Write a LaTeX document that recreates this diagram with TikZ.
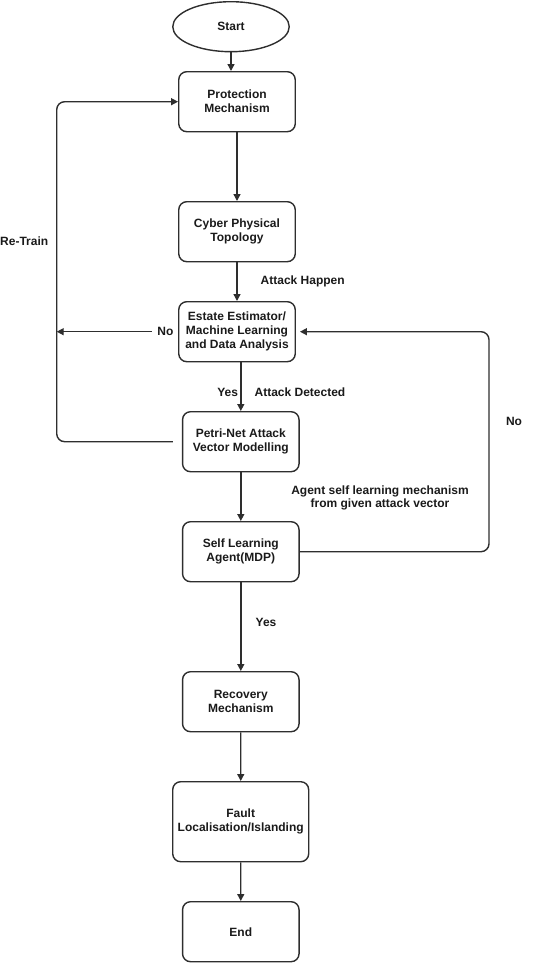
\documentclass[tikz,border=0pt]{standalone}
\usepackage{fontspec}
\setmainfont{Liberation Sans}
\usetikzlibrary{shapes.geometric,arrows.meta}
\definecolor{ln}{HTML}{2E2E2E}
\definecolor{tx}{HTML}{1A1A1A}
\tikzset{
  box/.style={draw=ln, line width=1.4pt, rounded corners=8pt, minimum width=116.5pt, minimum height=60pt, inner sep=2pt, align=center, font=\fontsize{12}{14}\selectfont\bfseries, text=tx},
  startnode/.style={draw=ln, line width=1.4pt, ellipse, minimum width=116.5pt, minimum height=50pt, inner sep=0pt, font=\fontsize{12}{14}\selectfont\bfseries, text=tx},
  arr/.style={draw=ln, line width=1.4pt, -{Triangle[length=7pt,width=7pt]}},
  lbl/.style={font=\fontsize{12}{13}\selectfont\bfseries, text=tx, align=center, inner sep=1pt}
}
\begin{document}
\begin{tikzpicture}[x=1pt,y=-1pt]
\useasboundingbox (0,0) rectangle (540,964);
\node[startnode] (start) at (231,26.7) {Start};
\node[box] (prot) at (237,101.7) {Protection\\Mechanism};
\node[box] (cyber) at (237,231.7) {Cyber Physical\\Topology};
\node[box] (estate) at (237,331.7) {Estate Estimator/\\Machine Learning\\and Data Analysis};
\node[box] (petri) at (240.8,441.7) {Petri-Net Attack\\Vector Modelling};
\node[box] (self) at (240.8,551.7) {Self Learning\\Agent(MDP)};
\node[box] (recov) at (240.8,701.7) {Recovery\\Mechanism};
\node[box, minimum width=136pt, minimum height=80pt] (fault) at (240.7,821.7) {Fault\\Localisation/Islanding};
\node[box] (end) at (240.8,931.7) {End};

\coordinate (lt) at (56.7,101.7);
\coordinate (lb) at (56.7,441.7);
\coordinate (rt) at (489,331.7);
\coordinate (rb) at (489,551.7);

\draw[arr] (start.south) -- (start.south |- prot.north);
\draw[arr] (prot) -- (cyber);
\draw[arr] (cyber) -- (estate)
  node[lbl, pos=0.5, right=22pt] (ah) {Attack Happen};
\draw[arr] (petri.north |- estate.south) -- (petri.north);
\draw[arr] (petri) -- (self);
\draw[arr] (self) -- (recov);
\draw[arr] (recov) -- (fault);
\draw[arr] (fault) -- (end);

\draw[arr, rounded corners=8pt, shorten <=9pt] (petri.west) -- (lb) -- (lt) -- (prot.west);
\draw[arr] (estate.west) -- (lt |- estate.west)
  node[lbl, fill=white, pos=0.104, inner xsep=5pt] (nol) {No};
\draw[arr, rounded corners=8pt, shorten >=4pt] (self.east) -- (rb) -- (rt) -- (estate.east);

\node[lbl] (retrain) at (24.2,241.7) {Re-Train};
\node[lbl] (yes1) at (227.7,392.3) {Yes};
\node[lbl] (ad) at (300,392.3) {Attack Detected};
\node[lbl] (nor) at (514,421.7) {No};
\node[lbl] (agent) at (380,497.5) {Agent self learning mechanism\\from given attack vector};
\node[lbl] (yes2) at (266,622.3) {Yes};
\end{tikzpicture}
\end{document}
